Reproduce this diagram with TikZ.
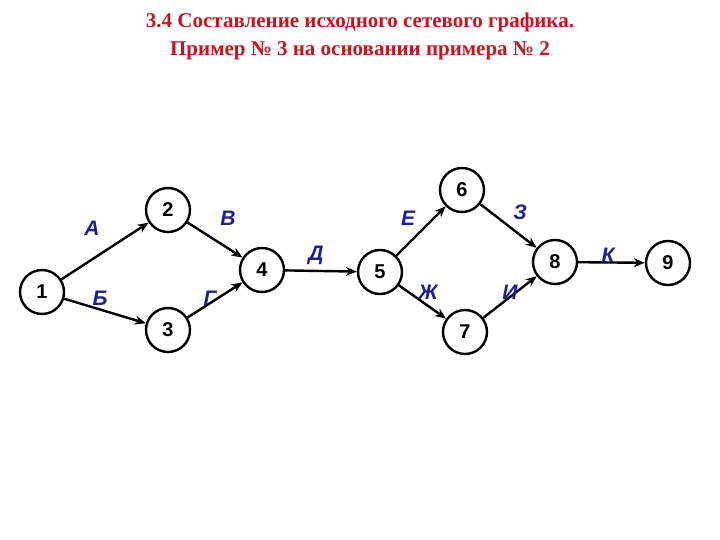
\documentclass[tikz,border=0pt]{standalone}
\usepackage{fontspec}
\setmainfont{Liberation Serif}
\newfontfamily\arialf{Liberation Sans}
\usetikzlibrary{arrows.meta}
\definecolor{ttl}{RGB}{200,20,30}
\definecolor{lbl}{RGB}{30,30,150}
\begin{document}
\begin{tikzpicture}[x=1pt,y=-1pt,
  ev/.style={circle,draw,line width=2.4pt,minimum size=44pt,inner sep=0pt,font=\arialf\bfseries\fontsize{20}{20}\selectfont},
  job/.style={draw,line width=2.4pt,-{Stealth[length=11pt,width=9pt]}},
  lab/.style={text=lbl,font=\arialf\bfseries\itshape\fontsize{21}{21}\selectfont}]
\useasboundingbox (0,0) rectangle (720,540);
\node[text=ttl,align=center,font=\bfseries\fontsize{21}{28}\selectfont] (title) at (360,36) {3.4 Составление исходного сетевого графика.\\Пример № 3 на основании примера № 2};
\node[ev] (n1) at (42,292) {1};
\node[ev] (n2) at (168,210) {2};
\node[ev] (n3) at (168,330) {3};
\node[ev] (n4) at (262,270) {4};
\node[ev] (n5) at (380,272) {5};
\node[ev] (n6) at (462,190) {6};
\node[ev] (n7) at (465,332) {7};
\node[ev] (n8) at (555,262) {8};
\node[ev] (n9) at (668,263) {9};
\draw[job] (n1) -- (n2);
\draw[job] (n1) -- (n3);
\draw[job] (n2) -- (n4);
\draw[job] (n3) -- (n4);
\draw[job] (n4) -- (n5);
\draw[job] (n5) -- (n6);
\draw[job] (n5) -- (n7);
\draw[job] (n6) -- (n8);
\draw[job] (n7) -- (n8);
\draw[job] (n8) -- (n9);
\node[lab] (lA) at (92,228) {А};
\node[lab] (lB) at (100,298) {Б};
\node[lab] (lV) at (228,218) {В};
\node[lab] (lG) at (210,298) {Г};
\node[lab] (lD) at (316,255) {Д};
\node[lab] (lE) at (408,218) {Е};
\node[lab] (lZ) at (520,212) {З};
\node[lab] (lZh) at (428,292) {Ж};
\node[lab] (lI) at (510,292) {И};
\node[lab] (lK) at (608,255) {К};
\end{tikzpicture}
\end{document}
